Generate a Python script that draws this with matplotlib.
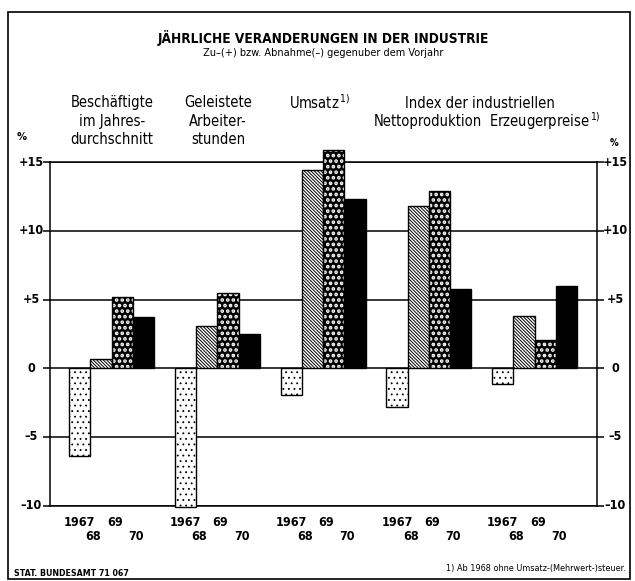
import matplotlib.pyplot as plt
import numpy as np
from matplotlib.patches import Rectangle

plt.rcParams['font.family'] = ['Liberation Sans Narrow', 'DejaVu Sans']
plt.rcParams['font.stretch'] = 'condensed'

# Werte (Veränderung gegenüber Vorjahr in %)
gruppen = ['Beschäftigte', 'Arbeiterstunden', 'Umsatz', 'Nettoproduktion', 'Erzeugerpreise']
jahre = ['1967', '68', '69', '70']
w1967 = [-6.4, -10.1, -1.9, -2.8, -1.1]
w1968 = [0.7, 3.1, 14.4, 11.8, 3.8]
w1969 = [5.2, 5.5, 15.9, 12.9, 2.1]
w1970 = [3.7, 2.5, 12.3, 5.8, 6.0]
yticks = [15, 10, 5, 0, -5, -10]
ytick_labels = ['+15', '+10', '+5', '0', '–5', '–10']

W, H = 635, 581
fig = plt.figure(figsize=(W / 100, H / 100), dpi=100)
ax = fig.add_axes([50 / W, 1 - 506 / H, 547 / W, 344 / H])

g = np.arange(len(gruppen)) * 4.98
bw = 1.0

# 1967: weiss mit feinen Punkten
plt.rcParams['hatch.linewidth'] = 0.6
ax.bar(g, w1967, bw, color='white', edgecolor='black', hatch='...', lw=1, clip_on=False, zorder=3)
# 1968: dichte Schraffur
plt.rcParams['hatch.linewidth'] = 0.7
ax.bar(g + 1, w1968, bw, color='white', edgecolor='black', hatch='\\' * 10, lw=1, clip_on=False, zorder=3)
# 1969: schwarz mit weissen Punkten
plt.rcParams['hatch.linewidth'] = 1.8
ax.bar(g + 2, w1969, bw, color='black', edgecolor='white', hatch='...', lw=0, clip_on=False, zorder=3)
ax.bar(g + 2, w1969, bw, fill=False, edgecolor='black', lw=1, clip_on=False, zorder=4)
# 1970: schwarz
ax.bar(g + 3, w1970, bw, color='black', edgecolor='black', lw=1, clip_on=False, zorder=3)

ax.set_xlim(-1.4, g[-1] + 3.5 + 0.94)
ax.set_ylim(-10, 15)
for v in yticks:
    ax.axhline(v, color='black', lw=1.1, zorder=1)
for s in ['left', 'right', 'top', 'bottom']:
    ax.spines[s].set_linewidth(1.1)
ax.set_xticks([])
ax.set_yticks(yticks)
ax.tick_params(axis='y', which='both', direction='out', length=5, width=1.1,
               left=True, right=True, labelleft=False, labelright=False)

# Achsenbeschriftungen links/rechts
for v, lab in zip(yticks, ytick_labels):
    y = 1 - (368 - v * 13.72) / H
    fig.text(31 / W, y, lab, ha='center', va='center', fontsize=9, fontweight='bold')
    fig.text(615 / W, y, lab, ha='center', va='center', fontsize=9, fontweight='bold')
fig.text(22 / W, 1 - 137 / H, '%', ha='center', va='center', fontsize=8, fontweight='bold')
fig.text(614 / W, 1 - 143 / H, '%', ha='center', va='center', fontsize=7, fontweight='bold')

# Jahreszahlen unter den Gruppen
for x0 in g:
    for j, lab in enumerate(jahre):
        xd = x0 + j - (0.0 if j == 0 else 0.35)
        yy = 522 if j in (0, 2) else 536
        xf = ax.transData.transform((xd, 0))[0] / W
        fig.text(xf, 1 - yy / H, lab, ha='center', va='center', fontsize=9, fontweight='bold')

# Titel
fig.text(323 / W, 1 - 38 / H, 'JÄHRLICHE VERANDERUNGEN IN DER INDUSTRIE', ha='center', va='center',
         fontsize=9.8, fontweight='bold')
fig.text(323 / W, 1 - 53 / H, 'Zu–(+) bzw. Abnahme(–) gegenuber dem Vorjahr', ha='center', va='center',
         fontsize=7.8)

# Gruppentitel
kw = dict(ha='center', va='center', fontsize=10.5, linespacing=1.3)
fig.text(112 / W, 1 - 121 / H, 'Beschäftigte\nim Jahres-\ndurchschnitt', **kw)
fig.text(218 / W, 1 - 121 / H, 'Geleistete\nArbeiter-\nstunden', **kw)
fig.text(320 / W, 1 - 103 / H, 'Umsatz$^{\\,1)}$', **kw)
fig.text(480 / W, 1 - 103 / H, 'Index der industriellen', **kw)
fig.text(428 / W, 1 - 121 / H, 'Nettoproduktion', **kw)
fig.text(545 / W, 1 - 121 / H, 'Erzeugerpreise$^{\\,1)}$', **kw)

# Fussnoten
fig.text(14 / W, 1 - 573 / H, 'STAT. BUNDESAMT 71 067', ha='left', va='center', fontsize=6.3, fontweight='bold')
fig.text(626 / W, 1 - 568 / H, '1) Ab 1968 ohne Umsatz-(Mehrwert-)steuer.', ha='right', va='center', fontsize=6.5)

# Rahmen
fig.patches.append(Rectangle((8 / W, 1 - 579 / H), 622 / W, 567 / H, transform=fig.transFigure,
                             fill=False, edgecolor='black', lw=1.2))

fig.savefig('out.png', dpi=100)
